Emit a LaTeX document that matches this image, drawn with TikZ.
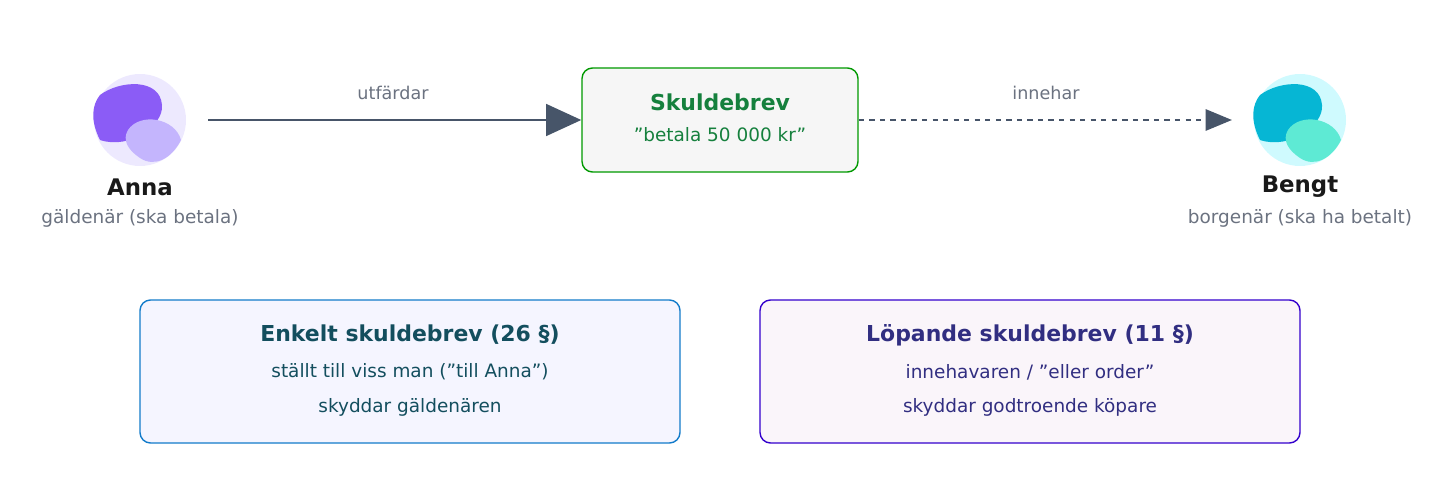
\documentclass[tikz,border=0pt]{standalone}
\usepackage{fontspec}
\setmainfont{DejaVu Sans}
\usetikzlibrary{arrows.meta}
\definecolor{slate}{HTML}{475569}
\definecolor{greyt}{HTML}{6B7280}
\definecolor{grn}{HTML}{15803D}
\definecolor{tealt}{HTML}{134E5E}
\definecolor{indt}{HTML}{312E81}
\definecolor{vbg}{HTML}{EDE9FE}
\definecolor{vdark}{HTML}{8B5CF6}
\definecolor{vlight}{HTML}{C4B5FD}
\definecolor{cbg}{HTML}{CFFAFE}
\definecolor{cdark}{HTML}{06B6D4}
\definecolor{clight}{HTML}{5EEAD4}
\tikzset{
  px/.style={x=0.02cm,y=-0.02cm},
  who/.style={font=\bfseries\fontsize{13}{15}\selectfont, text=black!90},
  role/.style={font=\fontsize{10.5}{12}\selectfont, text=greyt},
  lbl/.style={font=\fontsize{10}{12}\selectfont, text=greyt},
  card/.style={draw, rounded corners=6pt, line width=0.8pt, align=center, inner sep=0pt},
  flow/.style={slate, line width=1.5pt}
}
\begin{document}
\begin{tikzpicture}[px]
\useasboundingbox (0,0) rectangle (1440,500);

% Anna
\fill[vbg] (140,120) circle (46);
\fill[vdark] (100,95) .. controls (120,80) and (160,78) .. (162,105) .. controls (164,125) and (130,150) .. (100,140) .. controls (90,120) and (92,105) .. (100,95);
\fill[vlight] (128,130) .. controls (140,112) and (175,118) .. (181,140) .. controls (172,158) and (155,168) .. (140,158) .. controls (128,150) and (122,140) .. (128,130);
\node (anna) [who] at (140,187) {Anna};
\node (annar) [role] at (140,218) {gäldenär (ska betala)};

% Bengt
\fill[cbg] (1300,120) circle (46);
\fill[cdark] (1260,95) .. controls (1280,80) and (1320,78) .. (1322,105) .. controls (1324,125) and (1290,150) .. (1260,140) .. controls (1250,120) and (1252,105) .. (1260,95);
\fill[clight] (1288,130) .. controls (1300,112) and (1335,118) .. (1341,140) .. controls (1332,158) and (1315,168) .. (1300,158) .. controls (1288,150) and (1282,140) .. (1288,130);
\node (bengt) [who] at (1300,187) {Bengt};
\node (bengtr) [role] at (1300,218) {borgenär (ska ha betalt)};

% skuldebrev
\node (sb) [card, draw=green!60!black, fill=gray!7, minimum width=276*0.02cm, minimum height=104*0.02cm] at (720,120) {};
\node [font=\bfseries\fontsize{12.5}{14}\selectfont, text=grn] at (720,102) {Skuldebrev};
\node [font=\fontsize{10.5}{12}\selectfont, text=grn] at (720,135) {”betala 50 000 kr”};

\coordinate (a1) at (208,120);
\coordinate (b1) at (1232,120);
\draw[flow, -{Triangle[length=20pt,width=18pt]}] (a1) -- (sb.west);
\draw[flow, dashed, -{Triangle[length=15pt,width=12pt]}] (sb.east) -- (b1);
\node [lbl] at (393,93) {utfärdar};
\node [lbl] at (1046,93) {innehar};

% typer
\node (enk) [card, draw=cyan!60!blue, fill=blue!4, minimum width=540*0.02cm, minimum height=143*0.02cm] at (410,371.5) {};
\node [font=\bfseries\fontsize{12.5}{14}\selectfont, text=tealt] at (410,335) {Enkelt skuldebrev (26 §)};
\node [font=\fontsize{10.5}{12}\selectfont, text=tealt] at (410,372) {ställt till viss man (”till Anna”)};
\node [font=\fontsize{10.5}{12}\selectfont, text=tealt] at (410,407) {skyddar gäldenären};

\node (lop) [card, draw=blue!60!violet, fill=violet!4, minimum width=540*0.02cm, minimum height=143*0.02cm] at (1030,371.5) {};
\node [font=\bfseries\fontsize{12.5}{14}\selectfont, text=indt] at (1030,335) {Löpande skuldebrev (11 §)};
\node [font=\fontsize{10.5}{12}\selectfont, text=indt] at (1030,372) {innehavaren / ”eller order”};
\node [font=\fontsize{10.5}{12}\selectfont, text=indt] at (1030,407) {skyddar godtroende köpare};
\end{tikzpicture}
\end{document}
